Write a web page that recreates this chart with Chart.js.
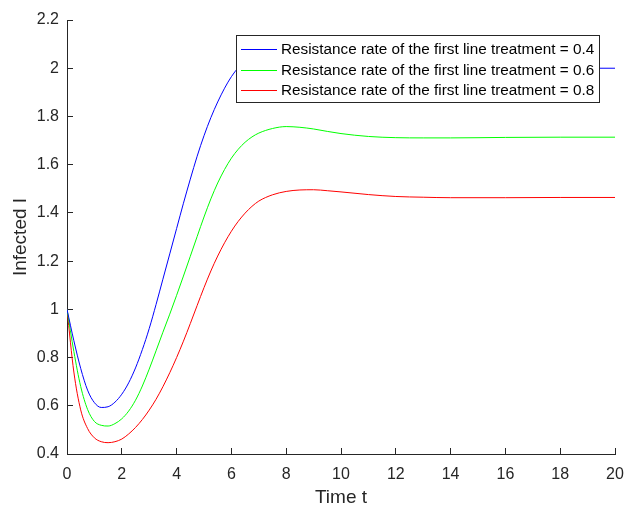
<!DOCTYPE html>
<html>
<head>
<meta charset="utf-8">
<script src="https://cdn.jsdelivr.net/npm/chart.js@4.4.0/dist/chart.umd.min.js"></script>
<style>
  html, body { margin: 0; padding: 0; background: #fff; }
  canvas { display: block; }
</style>
</head>
<body>
<canvas id="chart" width="624" height="509"></canvas>
<script>
// time points (t) and infected I for each resistance rate
const timeT = [0, 0.25, 0.5, 0.75, 1, 1.25, 1.5, 1.75, 2, 2.25, 2.5, 2.75, 3, 3.25, 3.5, 3.75,
  4, 4.25, 4.5, 4.75, 5, 5.25, 5.5, 5.75, 6, 6.25, 6.5, 6.75, 7,
  7.5, 8, 8.5, 9, 9.5, 10, 11, 12, 13, 14, 16, 18, 20]
const infected04 = [1.0, 0.87, 0.755, 0.665, 0.613, 0.593, 0.596, 0.615, 0.648, 0.695, 0.757, 0.833, 0.92, 1.02, 1.125, 1.23,
  1.335, 1.44, 1.54, 1.635, 1.72, 1.795, 1.86, 1.917, 1.965, 2.002, 2.028, 2.046, 2.056,
  2.06, 2.052, 2.04, 2.028, 2.018, 2.01, 2.003, 2.0, 2.0, 2.0, 2.0, 2.0, 2.0]
const infected06 = [1.0, 0.825, 0.68, 0.585, 0.535, 0.519, 0.516, 0.526, 0.546, 0.578, 0.623, 0.682, 0.752, 0.828, 0.905, 0.98,
  1.058, 1.138, 1.22, 1.302, 1.383, 1.458, 1.524, 1.58, 1.627, 1.664, 1.693, 1.715, 1.731,
  1.75, 1.758, 1.755, 1.748, 1.738, 1.729, 1.717, 1.712, 1.711, 1.711, 1.713, 1.714, 1.714]
const infected08 = [1.0, 0.74, 0.583, 0.506, 0.467, 0.451, 0.447, 0.451, 0.462, 0.483, 0.51, 0.543, 0.582, 0.627, 0.679, 0.737,
  0.80, 0.868, 0.941, 1.016, 1.09, 1.159, 1.221, 1.276, 1.324, 1.365, 1.399, 1.427, 1.449,
  1.475, 1.489, 1.495, 1.496, 1.492, 1.487, 1.476, 1.468, 1.465, 1.463, 1.463, 1.464, 1.464]

const seriesLabels = [
  'Resistance rate of the first line treatment = 0.4',
  'Resistance rate of the first line treatment = 0.6',
  'Resistance rate of the first line treatment = 0.8'
]
const seriesColors = ['#0000ff', '#00ff00', '#ff0000']

const axisColor = '#262626'
const fontFamily = '"Liberation Sans", Arial, Helvetica, sans-serif'

const toPoints = (ys) => ys.map((y, i) => ({ x: timeT[i], y: y }))

// MATLAB style legend drawn on top of the plot area
const insideLegend = {
  id: 'insideLegend',
  afterDraw(chart) {
    const ctx = chart.ctx
    const area = chart.chartArea
    ctx.save()
    ctx.font = '15.3px ' + fontFamily
    const textW = Math.max(...seriesLabels.map((s) => ctx.measureText(s).width))
    const w = Math.round(textW + 51)
    const h = 68
    const x = Math.round(area.right - 15 - w)
    const y = Math.round(area.top + 15)
    ctx.fillStyle = '#ffffff'
    ctx.fillRect(x, y, w, h)
    ctx.strokeStyle = axisColor
    ctx.lineWidth = 1
    ctx.strokeRect(x + 0.5, y + 0.5, w - 1, h - 1)
    ctx.textBaseline = 'middle'
    ctx.textAlign = 'left'
    seriesLabels.forEach((label, i) => {
      const ry = y + 14 + i * 20.5
      ctx.strokeStyle = seriesColors[i]
      ctx.beginPath()
      ctx.moveTo(x + 5, Math.round(ry) + 0.5)
      ctx.lineTo(x + 41, Math.round(ry) + 0.5)
      ctx.stroke()
      ctx.fillStyle = '#000000'
      ctx.fillText(label, x + 45, ry + 1)
    })
    ctx.restore()
  }
}

new Chart(document.getElementById('chart'), {
  type: 'line',
  data: {
    datasets: [infected04, infected06, infected08].map((ys, i) => ({
      label: seriesLabels[i],
      data: toPoints(ys),
      borderColor: seriesColors[i],
      borderWidth: 1,
      pointRadius: 0,
      fill: false,
      cubicInterpolationMode: 'monotone'
    }))
  },
  options: {
    responsive: false,
    animation: false,
    layout: { padding: { top: 20, right: 9, left: 0, bottom: 0 } },
    plugins: {
      legend: { display: false },
      tooltip: { enabled: false }
    },
    scales: {
      x: {
        type: 'linear',
        min: 0,
        max: 20,
        afterFit: (s) => {
          s.height = 55
          s.paddingLeft = 0
          s.paddingRight = 0
        },
        ticks: {
          stepSize: 2,
          color: axisColor,
          padding: 17,
          maxRotation: 0,
          font: { family: fontFamily, size: 16 }
        },
        grid: { drawOnChartArea: false, tickLength: -6, color: axisColor },
        border: { color: axisColor },
        title: {
          display: true,
          text: 'Time t',
          color: axisColor,
          padding: { top: 0, bottom: 0 },
          font: { family: fontFamily, size: 19 }
        }
      },
      y: {
        min: 0.4,
        max: 2.2,
        afterFit: (s) => {
          s.width = 67
          s.paddingTop = 0
          s.paddingBottom = 0
        },
        ticks: {
          stepSize: 0.2,
          color: axisColor,
          padding: 14,
          font: { family: fontFamily, size: 16 },
          callback: (v) => String(Math.round(v * 10) / 10)
        },
        grid: { drawOnChartArea: false, tickLength: -6, color: axisColor },
        border: { color: axisColor },
        title: {
          display: true,
          text: 'Infected I',
          color: axisColor,
          padding: { top: 9, bottom: 0 },
          font: { family: fontFamily, size: 19 }
        }
      }
    }
  },
  plugins: [insideLegend]
})
</script>
</body>
</html>
